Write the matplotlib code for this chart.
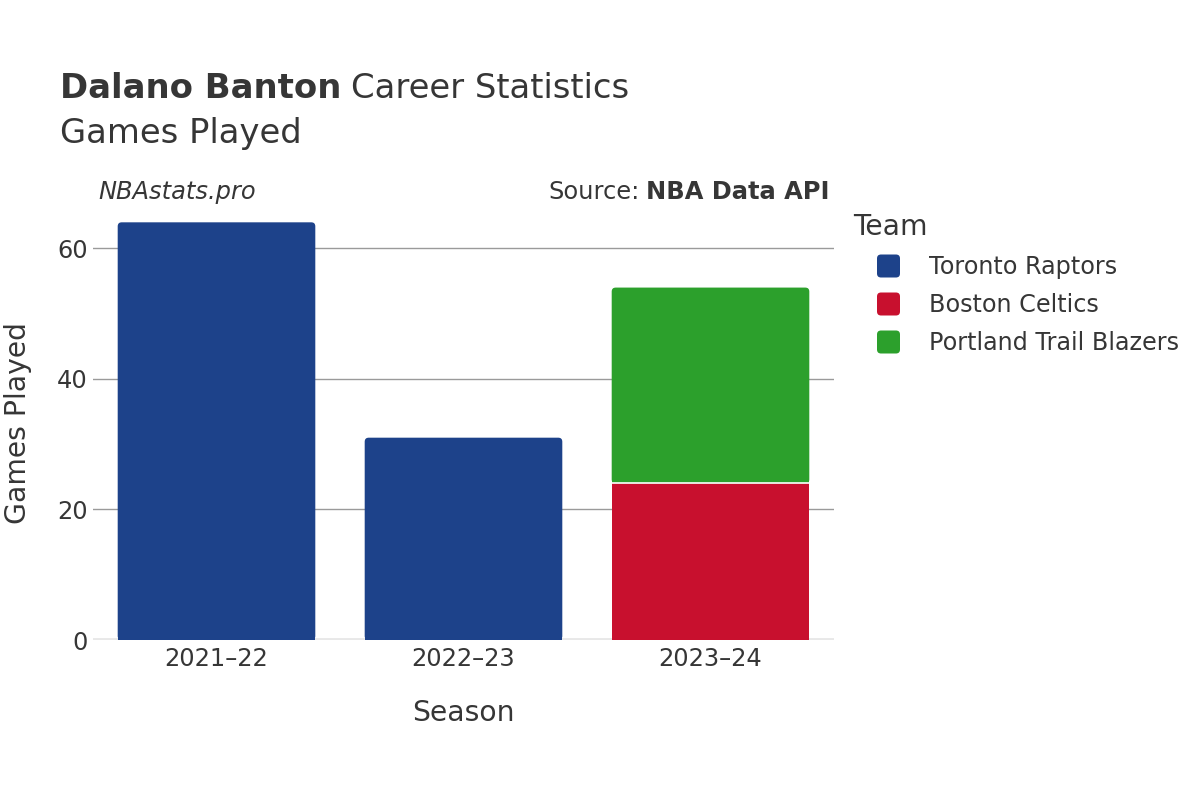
import matplotlib
matplotlib.use("Agg")
import matplotlib.pyplot as plt
from matplotlib.patches import FancyBboxPatch, Rectangle

# data
seasons = ["2021\u201322", "2022\u201323", "2023\u201324"]
teams = ["Toronto Raptors", "Boston Celtics", "Portland Trail Blazers"]
team_colors = ["#1d428a", "#c8102e", "#2ca02c"]
toronto = [64, 31, 0]
boston = [0, 0, 24]
portland = [0, 0, 30]
yticks = [0, 20, 40, 60]

W, H = 1200, 800
TXT = "#363636"

fig = plt.figure(figsize=(12, 8), dpi=100)
ax = fig.add_axes([93 / W, 1 - 640 / H, (834 - 93) / W, (640 - 206) / H])
ax.set_xlim(-0.5, 2.5)
ax.set_ylim(0, 66.5)

bar_w = 0.8
px_x = (834 - 93) / 3.0          # pixels per x unit
px_y = (640 - 206) / 66.5        # pixels per y unit
aspect = px_x / px_y
r = 4.0 / px_x

series = [toronto, boston, portland]
bottoms = [0, 0, 0]
for i in range(len(seasons)):
    # top segment gets the rounded corners
    top_k = max(k for k in range(3) if series[k][i] > 0)
    for k in range(3):
        v = series[k][i]
        if v <= 0:
            continue
        x0 = i - bar_w / 2
        b = bottoms[i]
        if k == top_k:
            p = FancyBboxPatch((x0, b), bar_w, v,
                               boxstyle="round,pad=0,rounding_size=%f" % r,
                               mutation_aspect=aspect,
                               facecolor=team_colors[k], edgecolor="none", zorder=3)
            ax.add_patch(p)
            ax.add_patch(Rectangle((x0, b), bar_w, v / 2, facecolor=team_colors[k],
                                   edgecolor="none", zorder=3))
        else:
            ax.add_patch(Rectangle((x0, b), bar_w, v, facecolor=team_colors[k],
                                   edgecolor="none", zorder=3))
        if b > 0:
            ax.plot([x0, x0 + bar_w], [b, b], color="white", lw=1.2, zorder=4)
        bottoms[i] += v

for s in ["top", "right", "left", "bottom"]:
    ax.spines[s].set_visible(False)
for t in yticks[1:]:
    ax.axhline(t, color="#9a9a9a", lw=1, zorder=1)
ax.axhline(0, color="#e8e8e8", lw=3.5, zorder=2)

ax.set_xticks(range(len(seasons)))
ax.set_xticklabels(seasons)
ax.set_yticks(yticks)
ax.tick_params(axis="x", length=0, pad=5, labelsize=17.4, labelcolor=TXT)
ax.tick_params(axis="y", length=0, pad=3.6, labelsize=17.4, labelcolor=TXT)
ax.set_xlabel("Season", fontsize=20.3, color=TXT, labelpad=20)
ax.set_ylabel("Games Played", fontsize=20.3, color=TXT, labelpad=18)

# titles
t1 = fig.text(60 / W, 1 - 89 / H, "Dalano Banton", fontsize=24.4, fontweight="bold",
              color=TXT, va="center", ha="left")
fig.canvas.draw()
bb = t1.get_window_extent()
fig.text((bb.x1 + 10) / W, 1 - 89 / H, "Career Statistics", fontsize=24.4, color=TXT,
         va="center", ha="left")
fig.text(60 / W, 1 - 133 / H, "Games Played", fontsize=24.4, color=TXT, va="center", ha="left")

fig.text(98 / W, 1 - 192 / H, "NBAstats.pro", fontsize=17.4, style="italic", color=TXT,
         va="center", ha="left")
t2 = fig.text(830 / W, 1 - 192 / H, "NBA Data API", fontsize=17.4, fontweight="bold",
              color=TXT, va="center", ha="right")
fig.canvas.draw()
bb2 = t2.get_window_extent()
fig.text((bb2.x0 - 7) / W, 1 - 192 / H, "Source:", fontsize=17.4, color=TXT,
         va="center", ha="right")

# legend
fig.text(853 / W, 1 - 227 / H, "Team", fontsize=20.3, color=TXT, va="center", ha="left")
for k, name in enumerate(teams):
    yc = 266 + 38 * k
    m = FancyBboxPatch((877 / W, 1 - (yc + 11.5) / H), 23 / W, 23 / H,
                       boxstyle="round,pad=0,rounding_size=%f" % (4.0 / W),
                       mutation_aspect=W / H, transform=fig.transFigure,
                       facecolor=team_colors[k], edgecolor="none")
    fig.add_artist(m)
    fig.text(929 / W, 1 - (yc + 1) / H, name, fontsize=17.2, color=TXT, va="center", ha="left")

fig.savefig("out.png", dpi=100)
